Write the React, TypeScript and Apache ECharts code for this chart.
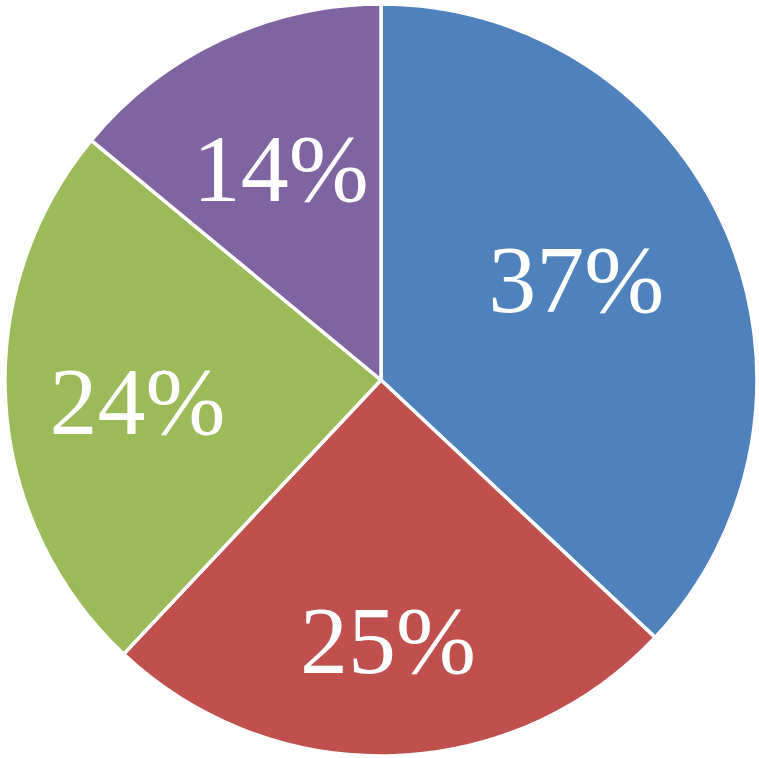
import React, { useEffect, useRef } from "react";
import * as echarts from "echarts";

const categories = ["A", "B", "C", "D"];
const values = [37, 25, 24, 14];
const colors = ["#4F81BD", "#C0504D", "#9BBB59", "#8064A2"];
const labelShift: [number, number][] = [
  [20, -25],
  [1, 70],
  [-53, 10],
  [-19, -39],
];

export default function App() {
  const ref = useRef<HTMLDivElement>(null);
  useEffect(() => {
    if (!ref.current) return;
    const chart = echarts.init(ref.current, undefined, { renderer: "svg" });
    chart.setOption({
      animation: false,
      backgroundColor: "#ffffff",
      series: [
        {
          type: "pie",
          center: [381, 380],
          radius: [0, 376],
          startAngle: 90,
          clockwise: true,
          avoidLabelOverlap: false,
          itemStyle: { borderColor: "#ffffff", borderWidth: 3.5 },
          label: {
            show: true,
            position: "inside",
            formatter: (p: any) => `${p.value}%`,
            color: "#ffffff",
            fontFamily: "Liberation Serif",
            fontSize: 96,
          },
          labelLine: { show: false },
          labelLayout: (p: any) => ({
            dx: labelShift[p.dataIndex][0],
            dy: labelShift[p.dataIndex][1],
          }),
          emphasis: { disabled: true },
          data: categories.map((c, i) => ({
            name: c,
            value: values[i],
            itemStyle: { color: colors[i] },
          })),
        },
      ],
    });
    return () => chart.dispose();
  }, []);
  return (
    <div
      ref={ref}
      style={{ position: "fixed", left: 0, top: 0, width: 759, height: 758 }}
    />
  );
}
